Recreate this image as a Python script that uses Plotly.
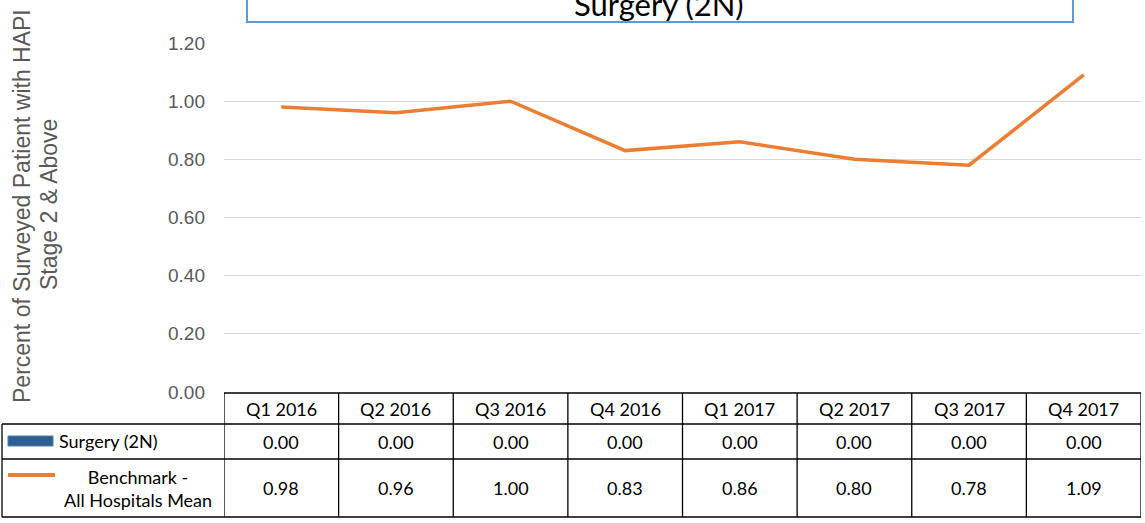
import plotly.graph_objects as go

categories = ["Q1 2016", "Q2 2016", "Q3 2016", "Q4 2016", "Q1 2017", "Q2 2017", "Q3 2017", "Q4 2017"]
surgery = [0.00, 0.00, 0.00, 0.00, 0.00, 0.00, 0.00, 0.00]
benchmark = [0.98, 0.96, 1.00, 0.83, 0.86, 0.80, 0.78, 1.09]
y_ticks = [0.0, 0.2, 0.4, 0.6, 0.8, 1.0, 1.2]
series_names = ["Surgery (2N)", "Benchmark -<br>All Hospitals Mean"]
title_text = "Surgery (2N)"
y_title_lines = ["Percent of Surveyed Patient with HAPI", "Stage 2 & Above"]

W, H = 1145, 523
ORANGE = "#ED7D31"
BLUE = "#2F5F8E"
GRAY = "#595959"
TABLE_FONT = dict(family="Lato", size=18, color="black")


def px(x):
    return x / W


def py(y):
    return 1 - y / H


fig = go.Figure()
fig.add_trace(go.Bar(x=categories, y=surgery, name="Surgery (2N)",
                     marker=dict(color=BLUE, line=dict(width=0)), showlegend=False))
fig.add_trace(go.Scatter(x=categories, y=benchmark, mode="lines", name="Benchmark",
                         line=dict(color=ORANGE, width=3.5), showlegend=False))

shapes = []
annotations = []


def ann(text, x, y, xref="paper", xanchor="center", font=TABLE_FONT, **kw):
    d = dict(text=text, xref=xref, yref="paper", x=x, y=y, xanchor=xanchor,
             yanchor=kw.pop("yanchor", "middle"), showarrow=False, font=font)
    d.update(kw)
    annotations.append(d)


# title box
shapes.append(dict(type="rect", xref="paper", yref="paper", x0=px(247), x1=px(1073),
                   y0=py(22), y1=1.1, line=dict(color="#5B9BD5", width=2), fillcolor="white", layer="above"))
ann(title_text, px(659), py(25), yanchor="bottom",
    font=dict(family="Lato", size=31, color="black"))

# y title
YT_FONT = dict(family="Liberation Sans", size=23, color=GRAY)
ann(y_title_lines[0], px(22), py(206), textangle=-90, font=YT_FONT)
ann(y_title_lines[1], px(49), py(205), textangle=-90, font=YT_FONT)

LINE = dict(color="black", width=1.3)
y_top, y_h, y_r2, y_bot = 393, 424, 459, 517
# horizontal table lines
shapes.append(dict(type="line", xref="paper", yref="paper", x0=px(224), x1=px(1141),
                   y0=py(y_top), y1=py(y_top), line=LINE))
for yy in (y_h, y_r2, y_bot):
    shapes.append(dict(type="line", xref="paper", yref="paper", x0=px(2), x1=px(1141),
                       y0=py(yy), y1=py(yy), line=LINE))
# left border of legend column
shapes.append(dict(type="line", xref="paper", yref="paper", x0=px(2), x1=px(2),
                   y0=py(y_h), y1=py(y_bot), line=LINE))
# column boundaries
for i in range(len(categories) + 1):
    shapes.append(dict(type="line", xref="x", yref="paper", x0=i - 0.5, x1=i - 0.5,
                       y0=py(y_top), y1=py(y_bot), line=LINE))

# table text
for i, c in enumerate(categories):
    ann(c, i, py((y_top + y_h) / 2), xref="x")
    ann(f"{surgery[i]:.2f}", i, py((y_h + y_r2) / 2), xref="x")
    ann(f"{benchmark[i]:.2f}", i, py((y_r2 + y_bot) / 2), xref="x")

# legend keys
shapes.append(dict(type="rect", xref="paper", yref="paper", x0=px(8), x1=px(53), y0=py(446), y1=py(436),
                   fillcolor=BLUE, line=dict(color="#4A7FB5", width=1)))
shapes.append(dict(type="line", xref="paper", yref="paper", x0=px(8), x1=px(55), y0=py(475), y1=py(475),
                   line=dict(color=ORANGE, width=4)))
ann(series_names[0], px(57), py(441), xanchor="left")
ann(series_names[1], px(138), py(488), align="center")

fig.update_layout(
    width=W, height=H, margin=dict(l=0, r=0, t=0, b=0, autoexpand=False),
    paper_bgcolor="white", plot_bgcolor="white",
    shapes=shapes, annotations=annotations,
    xaxis=dict(domain=[px(224), px(1141)], range=[-0.5, 7.5], showticklabels=False,
               showgrid=False, zeroline=False, showline=False, ticks="", automargin=False),
    yaxis=dict(domain=[py(392), py(43)], range=[0, 1.2], tickvals=y_ticks, tickformat=".2f",
               showgrid=True, gridcolor="#D9D9D9", gridwidth=1, zeroline=False, showline=False,
               ticks="", ticklabelstandoff=18, automargin=False,
               tickfont=dict(family="Liberation Sans", size=19, color=GRAY)),
)

fig.write_html("out.html", config={"displayModeBar": False},
               post_script="document.body.style.margin='0';")
